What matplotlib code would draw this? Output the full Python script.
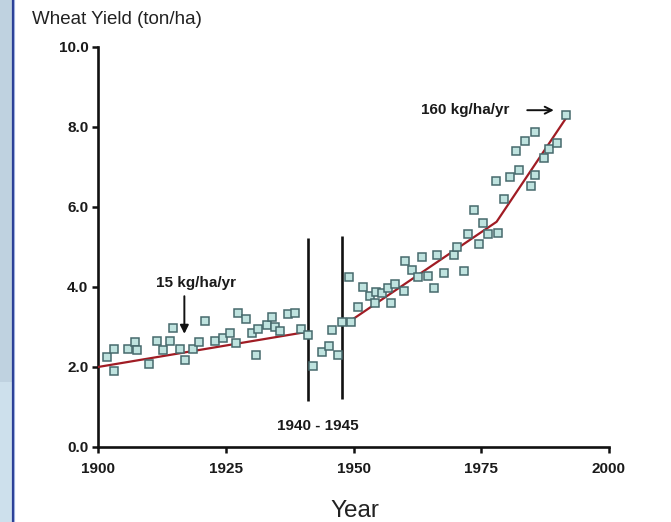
import matplotlib
matplotlib.use("Agg")
import matplotlib.pyplot as plt
from matplotlib.patches import Rectangle
from matplotlib.lines import Line2D

plt.rcParams['font.family'] = ['Liberation Sans', 'DejaVu Sans']

# observed yields (ton/ha)
years = [1901.8, 1903.2, 1903.2, 1905.8, 1907.2, 1907.7, 1910.0, 1911.5, 1912.8, 1914.0,
         1914.7, 1916.0, 1917.0, 1918.5, 1919.8, 1920.9, 1922.9, 1924.4, 1925.8, 1927.1,
         1927.3, 1928.9, 1930.2, 1930.9, 1931.4, 1933.0, 1934.0, 1934.6, 1935.6, 1937.2,
         1938.5, 1939.8, 1941.1, 1942.0, 1943.8, 1945.2, 1945.7, 1946.9, 1947.8, 1949.1,
         1949.6, 1950.9, 1951.9, 1953.2, 1954.2, 1954.5, 1955.5, 1956.8, 1957.3, 1958.2,
         1959.9, 1960.0, 1961.4, 1962.7, 1963.5, 1964.6, 1965.8, 1966.4, 1967.7, 1969.7,
         1970.2, 1971.7, 1972.5, 1973.6, 1974.6, 1975.3, 1976.4, 1977.8, 1978.3, 1979.4,
         1980.7, 1981.8, 1982.4, 1983.6, 1984.7, 1985.5, 1985.6, 1987.3, 1988.3, 1989.8,
         1991.5]
yields = [2.25, 2.44, 1.90, 2.44, 2.63, 2.42, 2.07, 2.64, 2.42, 2.64,
          2.97, 2.44, 2.17, 2.44, 2.63, 3.15, 2.65, 2.73, 2.84, 2.61,
          3.34, 3.19, 2.84, 2.30, 2.94, 3.05, 3.26, 3.00, 2.91, 3.33,
          3.36, 2.96, 2.80, 2.02, 2.38, 2.52, 2.92, 2.31, 3.12, 4.26,
          3.13, 3.50, 4.00, 3.78, 3.60, 3.88, 3.84, 3.97, 3.59, 4.07,
          3.91, 4.65, 4.43, 4.24, 4.74, 4.28, 3.97, 4.80, 4.36, 4.80,
          5.00, 4.41, 5.32, 5.92, 5.08, 5.59, 5.33, 6.65, 5.35, 6.20,
          6.74, 7.40, 6.92, 7.66, 6.53, 6.80, 7.87, 7.23, 7.45, 7.60,
          8.29]

# fitted trends
pre_years = [1900, 1941]
pre_fit = [2.0, 2.88]
post_years = [1949, 1978, 1992]
post_fit = [3.12, 5.63, 8.30]

# war period markers
war_years = [1941.1, 1947.8]
war_low = [1.15, 1.20]
war_high = [5.22, 5.27]

xticks = [1900, 1925, 1950, 1975, 2000]
yticks = [0, 2, 4, 6, 8, 10]

fig = plt.figure(figsize=(6.71, 5.22), dpi=100)
ax = fig.add_axes([98 / 671, 75 / 522, 511 / 671, 400 / 522])

# page edge on the left
fig.patches.append(Rectangle((0, 140 / 522), 12 / 671, 382 / 522, transform=fig.transFigure,
                             facecolor='#bfd2e0', edgecolor='none'))
fig.patches.append(Rectangle((0, 0), 12 / 671, 140 / 522, transform=fig.transFigure,
                             facecolor='#cde0ec', edgecolor='none'))
fig.lines.append(Line2D([12.5 / 671, 12.5 / 671], [0, 1], transform=fig.transFigure,
                        color='#2a3e96', lw=1.6))
fig.lines.append(Line2D([14.2 / 671, 14.2 / 671], [0, 1], transform=fig.transFigure,
                        color='#9fb0de', lw=0.8))

ax.vlines(war_years, war_low, war_high, color='#111111', lw=1.9)

ax.plot(pre_years, pre_fit, color='#a01c24', lw=1.6, zorder=3)
ax.plot(post_years, post_fit, color='#a01c24', lw=1.6, zorder=3)

ax.plot(years, yields, ls='none', marker='s', ms=6.4, mfc='#bfe3df', mec='#46696c',
        mew=1.1, zorder=4, clip_on=False)

ax.set_xlim(1900, 2000)
ax.set_ylim(0, 10)
ax.set_xticks(xticks)
ax.set_yticks(yticks)
ax.set_xticklabels([str(t) for t in xticks])
ax.set_yticklabels([f"{t:.1f}" for t in yticks])

for side in ['top', 'right']:
    ax.spines[side].set_visible(False)
for side in ['left', 'bottom']:
    ax.spines[side].set_linewidth(1.9)
    ax.spines[side].set_color('#111111')
    ax.spines[side].set_capstyle('projecting')

ax.tick_params(axis='both', direction='out', length=4, width=1.8, color='#111111',
               labelsize=11)
ax.tick_params(axis='x', pad=7)
ax.tick_params(axis='y', pad=3)
for lab in ax.get_xticklabels() + ax.get_yticklabels():
    lab.set_fontweight('bold')
    lab.set_color('#1a1a1a')

ax.text(1943.1, 0.53, '1940 - 1945', ha='center', va='center', fontsize=11,
        fontweight='bold', color='#1a1a1a')

ax.text(1919.2, 4.09, '15 kg/ha/yr', ha='center', va='center', fontsize=11,
        fontweight='bold', color='#1a1a1a')
ax.annotate('', xy=(1916.9, 2.83), xytext=(1916.9, 3.77),
            arrowprops=dict(arrowstyle='-|>,head_length=0.5,head_width=0.25',
                            color='#111111', lw=1.4, shrinkA=0, shrinkB=0))

ax.text(1971.9, 8.42, '160 kg/ha/yr', ha='center', va='center', fontsize=11,
        fontweight='bold', color='#1a1a1a')
ax.annotate('', xy=(1989.2, 8.42), xytext=(1984.0, 8.42),
            arrowprops=dict(arrowstyle='->,head_length=0.5,head_width=0.25',
                            color='#111111', lw=1.4, shrinkA=0, shrinkB=0))

fig.text(32 / 671, 1 - 20 / 522, 'Wheat Yield (ton/ha)', ha='left', va='center',
         fontsize=13.5, color='#222222')
fig.text(355 / 671, 1 - 511 / 522, 'Year', ha='center', va='center', fontsize=17.5,
         color='#222222')

fig.savefig('out.png', dpi=100, facecolor='white')
